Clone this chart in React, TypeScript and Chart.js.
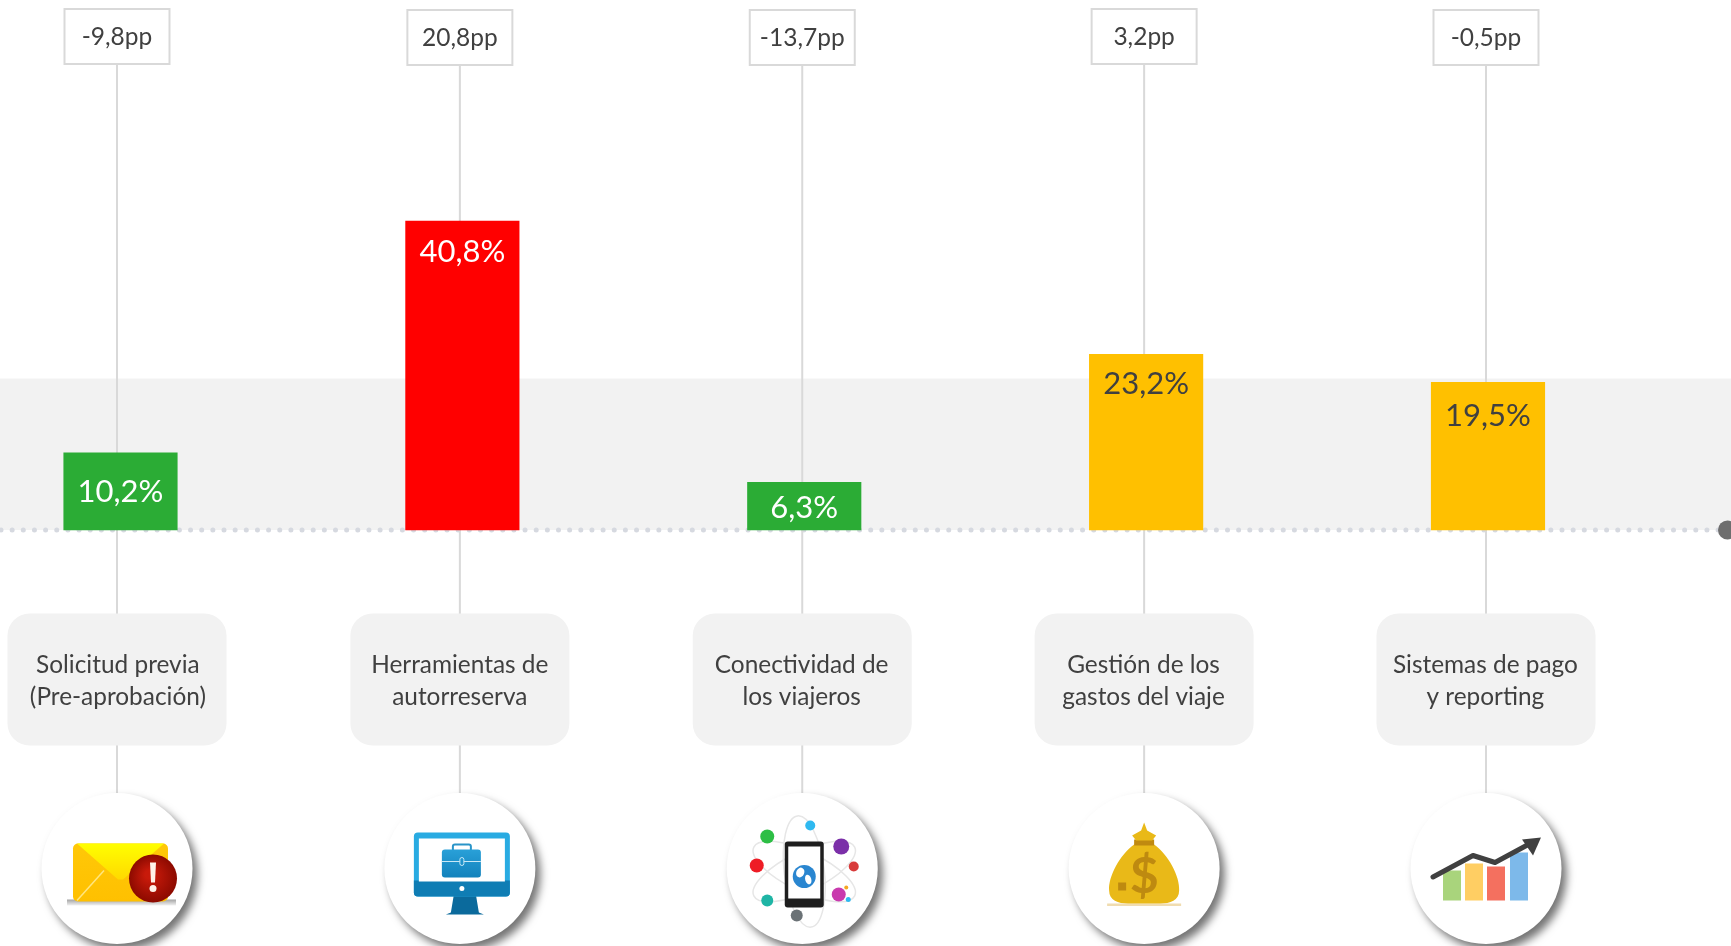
import React, { useEffect, useRef } from "react";
import { Chart, registerables } from "chart.js";

Chart.register(...registerables);

const categories: string[][] = [
  ["Solicitud previa", "(Pre-aprobación)"],
  ["Herramientas de", "autorreserva"],
  ["Conectividad de", "los viajeros"],
  ["Gestión de los", "gastos del viaje"],
  ["Sistemas de pago", "y reporting"],
];
const shareValues = [10.2, 40.8, 6.3, 23.2, 19.5];
const ppChange = [-9.8, 20.8, -13.7, 3.2, -0.5];
const barColors = ["#2BAC35", "#FF0000", "#2BAC35", "#FFC000", "#FFC000"];
const labelColors = ["#FFFFFF", "#FFFFFF", "#FFFFFF", "#404040", "#404040"];
const bandRange = [0, 20];

const FONT = "Lato, Carlito, Calibri, sans-serif";
const TEXT = "#404040";
const LINE = "#D9D9D9";
const labelDrop = [39, 31, 26, 30, 34];
const leaderShift = [-3.5, -2.5, -2, -2, -2];
const boxTops = [9, 10, 10, 9, 10];

const comma = (v: number) => v.toFixed(1).replace(".", ",");

function roundRect(c: CanvasRenderingContext2D, x: number, y: number, w: number, h: number, r: number | number[]) {
  c.beginPath();
  c.roundRect(x, y, w, h, r);
}

function envelope(c: CanvasRenderingContext2D) {
  const sh = c.createLinearGradient(0, 30, 0, 38);
  sh.addColorStop(0, "rgba(80,80,80,.6)");
  sh.addColorStop(1, "rgba(80,80,80,0)");
  c.fillStyle = sh;
  c.fillRect(-50, 31, 109, 6);
  const g = c.createLinearGradient(0, -25, 0, 33);
  g.addColorStop(0, "#FFC808");
  g.addColorStop(1, "#FFC000");
  c.fillStyle = g;
  roundRect(c, -44, -25, 95, 58, 5);
  c.fill();
  const f = c.createLinearGradient(0, -25, 0, 12);
  f.addColorStop(0, "#FFFF00");
  f.addColorStop(1, "#FFD800");
  c.fillStyle = f;
  c.beginPath();
  c.moveTo(-40, -25);
  c.lineTo(47, -25);
  c.lineTo(6, 11);
  c.lineTo(1, 11);
  c.closePath();
  c.fill();
  c.strokeStyle = "#FFE680";
  c.lineWidth = 1.5;
  c.beginPath();
  c.moveTo(-40, 32);
  c.lineTo(-13, 2);
  c.stroke();
  const r = c.createRadialGradient(32, 6, 4, 36, 10, 24);
  r.addColorStop(0, "#C81A0A");
  r.addColorStop(1, "#8C0A00");
  c.fillStyle = r;
  c.beginPath();
  c.arc(36, 10, 24, 0, Math.PI * 2);
  c.fill();
  c.fillStyle = "#FFF2E8";
  c.beginPath();
  c.moveTo(33, -6);
  c.lineTo(39, -6);
  c.lineTo(38, 14);
  c.lineTo(34, 14);
  c.closePath();
  c.fill();
  c.beginPath();
  c.arc(36, 20, 3.5, 0, Math.PI * 2);
  c.fill();
}

function monitor(c: CanvasRenderingContext2D) {
  c.fillStyle = "#0B6A9C";
  c.beginPath();
  c.moveTo(-6, 26);
  c.lineTo(16, 26);
  c.lineTo(19, 44);
  c.lineTo(24, 46);
  c.lineTo(-14, 46);
  c.lineTo(-9, 44);
  c.closePath();
  c.fill();
  c.fillStyle = "#29ABE2";
  roundRect(c, -46, -36, 96, 64, 4);
  c.fill();
  c.fillStyle = "#0F7DB4";
  roundRect(c, -46, 12, 96, 16, [0, 0, 4, 4]);
  c.fill();
  c.fillStyle = "#FFFFFF";
  c.fillRect(-41, -30, 86, 43);
  c.beginPath();
  c.arc(2, 20, 2.5, 0, Math.PI * 2);
  c.fill();
  const g = c.createLinearGradient(0, -19, 0, 9);
  g.addColorStop(0, "#29A0D8");
  g.addColorStop(1, "#1282BC");
  c.strokeStyle = "#2A94C8";
  c.lineWidth = 2;
  roundRect(c, -7, -24, 18, 7, 2);
  c.stroke();
  c.fillStyle = g;
  roundRect(c, -18, -19, 39, 28, 3);
  c.fill();
  c.strokeStyle = "#C8E8F6";
  c.lineWidth = 1;
  c.beginPath();
  c.moveTo(-18, -7);
  c.lineTo(0, -7);
  c.moveTo(4, -7);
  c.lineTo(21, -7);
  c.stroke();
  roundRect(c, 0, -11, 4, 8, 2);
  c.stroke();
}

function phone(c: CanvasRenderingContext2D) {
  c.strokeStyle = "#E6E6E6";
  c.lineWidth = 1.5;
  [0.45, -0.45, 1.45].forEach((a) => {
    c.beginPath();
    c.ellipse(2, 3, 56, 20, a, 0, Math.PI * 2);
    c.stroke();
  });
  const dots: [number, number, number, string][] = [
    [-35, -32, 7, "#2DBE45"],
    [8, -43, 5, "#2FB9F0"],
    [39, -22, 8, "#7B2FA8"],
    [51.5, -2, 5, "#D83A3A"],
    [-45.5, -3, 7, "#EE1C25"],
    [36.5, 26, 7, "#C93AAE"],
    [-35, 32, 6, "#1FB5A5"],
    [-5.5, 47, 6, "#6B7276"],
    [46, 31, 2.5, "#2FB9F0"],
    [44, 19, 2, "#F5A623"],
  ];
  dots.forEach(([x, y, r, col]) => {
    c.fillStyle = col;
    c.beginPath();
    c.arc(x, y, r, 0, Math.PI * 2);
    c.fill();
  });
  c.fillStyle = "#1E1E1E";
  roundRect(c, -17.5, -27, 39, 66, 3);
  c.fill();
  c.fillStyle = "#FFFFFF";
  c.fillRect(-14, -22, 32, 52);
  c.fillStyle = "#2A86D0";
  c.beginPath();
  c.arc(2, 8, 11.5, 0, Math.PI * 2);
  c.fill();
  c.fillStyle = "#FFFFFF";
  c.beginPath();
  c.ellipse(-2, 4, 4, 5, 0.4, 0, Math.PI * 2);
  c.ellipse(6, 11, 3, 5, -0.3, 0, Math.PI * 2);
  c.fill();
}

function bag(c: CanvasRenderingContext2D) {
  c.fillStyle = "#F0DCB0";
  c.fillRect(-37, 35, 74, 2.5);
  c.fillStyle = "#E9B918";
  c.beginPath();
  c.moveTo(-10, -24);
  c.lineTo(10, -24);
  c.bezierCurveTo(24, -14, 36, 8, 35, 22);
  c.bezierCurveTo(35, 32, 26, 35, 16, 35);
  c.lineTo(-16, 35);
  c.bezierCurveTo(-26, 35, -35, 32, -35, 22);
  c.bezierCurveTo(-36, 8, -24, -14, -10, -24);
  c.closePath();
  c.fill();
  c.fillStyle = "#C08A10";
  c.fillRect(-10, -29, 20, 6);
  c.fillStyle = "#E9B918";
  c.beginPath();
  c.moveTo(0, -46);
  c.lineTo(3, -38);
  c.lineTo(12, -33);
  c.lineTo(8, -28);
  c.lineTo(-8, -28);
  c.lineTo(-12, -33);
  c.lineTo(-3, -38);
  c.closePath();
  c.fill();
  c.fillStyle = "#BE8A10";
  c.font = `700 50px ${FONT}`;
  c.textAlign = "center";
  c.textBaseline = "middle";
  c.fillText("$", 0, 8);
  c.fillRect(-26, 14, 8, 8);
}

function growth(c: CanvasRenderingContext2D) {
  const bars: [number, number, string][] = [
    [-43, 2, "#A9D47C"],
    [-21, -5, "#FFCE63"],
    [1, -2, "#F4705F"],
    [24, -16, "#7DB9EA"],
  ];
  bars.forEach(([x, y, col]) => {
    c.fillStyle = col;
    c.fillRect(x, y, 18, 32 - y);
  });
  c.strokeStyle = "#404040";
  c.lineWidth = 5;
  c.lineJoin = "round";
  c.lineCap = "round";
  c.beginPath();
  c.moveTo(-53, 8.5);
  c.lineTo(-13, -13);
  c.lineTo(9, -6);
  c.lineTo(46, -26);
  c.stroke();
  c.fillStyle = "#404040";
  c.beginPath();
  c.moveTo(55, -31);
  c.lineTo(47, -13);
  c.lineTo(36, -29);
  c.closePath();
  c.fill();
}

const icons = [envelope, monitor, phone, bag, growth];

const decorations = {
  id: "decorations",
  beforeDraw(chart: Chart) {
    const c = chart.ctx;
    const x = chart.scales.x;
    const y = chart.scales.y;
    const W = chart.width;
    c.save();
    // reference band
    c.fillStyle = "#F2F2F2";
    const bt = y.getPixelForValue(bandRange[1]);
    const bb = y.getPixelForValue(bandRange[0]);
    c.fillRect(0, bt, W, bb - bt);
    // dotted baseline
    c.strokeStyle = "#D6D9E0";
    c.lineWidth = 5;
    c.lineCap = "round";
    c.setLineDash([0, 11.15]);
    c.beginPath();
    c.moveTo(1, bb);
    c.lineTo(W - 8, bb);
    c.stroke();
    c.setLineDash([]);
    c.lineCap = "butt";
    c.fillStyle = "#6E6E6E";
    c.beginPath();
    c.arc(W - 3.5, bb, 9.5, 0, Math.PI * 2);
    c.fill();

    categories.forEach((_, i) => {
      const cx = x.getPixelForValue(i) + leaderShift[i];
      // leader
      c.strokeStyle = LINE;
      c.lineWidth = 2;
      c.beginPath();
      c.moveTo(cx, 60);
      c.lineTo(cx, 800);
      c.stroke();
      // category box
      c.fillStyle = "#F2F2F2";
      roundRect(c, cx - 109.5, 613.5, 219, 132, 22);
      c.fill();
      // pp box
      c.fillStyle = "#FFFFFF";
      c.strokeStyle = LINE;
      roundRect(c, cx - 52.5, boxTops[i], 105, 55, 0);
      c.fill();
      c.stroke();
      c.fillStyle = TEXT;
      c.font = `24.5px ${FONT}`;
      c.textAlign = "center";
      c.textBaseline = "middle";
      c.fillText(`${comma(ppChange[i])}pp`, cx, boxTops[i] + 28.5);
      // icon disc
      c.save();
      c.shadowColor = "rgba(0,0,0,.55)";
      c.shadowBlur = 9;
      c.shadowOffsetX = 5;
      c.shadowOffsetY = 6;
      c.fillStyle = "#FFFFFF";
      c.beginPath();
      c.arc(cx, 868.5, 75.5, 0, Math.PI * 2);
      c.fill();
      c.restore();
      c.save();
      c.translate(cx, 868.5);
      c.filter = "blur(0.7px)";
      icons[i](c);
      c.restore();
    });
    c.restore();
  },
  afterDatasetsDraw(chart: Chart) {
    const c = chart.ctx;
    const meta = chart.getDatasetMeta(0);
    c.save();
    c.font = `31px ${FONT}`;
    c.textAlign = "center";
    c.textBaseline = "middle";
    meta.data.forEach((bar: any, i: number) => {
      c.fillStyle = labelColors[i];
      c.fillText(`${comma(shareValues[i])}%`, bar.x, bar.y + labelDrop[i]);
    });
    c.restore();
  },
};

export default function App() {
  const ref = useRef<HTMLCanvasElement>(null);
  useEffect(() => {
    const chart = new Chart(ref.current!, {
      type: "bar",
      data: {
        labels: categories,
        datasets: [
          {
            data: shareValues,
            backgroundColor: barColors,
            barThickness: 113.5,
            clip: false as any,
          },
        ],
      },
      plugins: [decorations],
      options: {
        animation: false,
        responsive: false,
        layout: { padding: { left: 120.5, right: 243, top: 0, bottom: 0 } },
        plugins: { legend: { display: false }, tooltip: { enabled: false }, title: { display: false } },
        scales: {
          x: {
            offset: false,
            grid: { display: false },
            border: { display: false },
            afterFit(scale: any) {
              scale.height = 416;
              scale.paddingLeft = 0;
              scale.paddingRight = 0;
            },
            ticks: {
              autoSkip: false,
              maxRotation: 0,
              minRotation: 0,
              padding: 111,
              labelOffset: -2.6,
              color: TEXT,
              font: { family: FONT, size: 24.4, lineHeight: 1.31 },
            },
          },
          y: { display: false, min: 0, max: 70 },
        },
      },
    });
    return () => chart.destroy();
  }, []);
  return (
    <div style={{ position: "absolute", left: 0, top: 0, width: 1731, height: 946, overflow: "hidden", background: "#fff" }}>
      <canvas ref={ref} width={1731} height={946} style={{ display: "block" }} />
    </div>
  );
}
